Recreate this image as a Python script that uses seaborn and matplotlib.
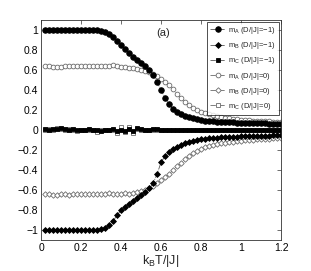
import numpy as np
import pandas as pd
import seaborn as sns
import matplotlib
matplotlib.use("Agg")
import matplotlib.pyplot as plt

# ── Data ──────────────────────────────────────────────────────────────────────
T = np.round(np.arange(1, 61) * 0.02, 2)

mA_m1 = [1.0] * 14 + [0.99,
         0.98, 0.96, 0.93, 0.89, 0.85, 0.81, 0.77, 0.73, 0.70, 0.67,
         0.64, 0.60, 0.55, 0.48, 0.40, 0.32, 0.26, 0.21, 0.18, 0.16,
         0.14, 0.13, 0.12, 0.11, 0.10, 0.095, 0.09, 0.088, 0.085, 0.082,
         0.080, 0.078, 0.076, 0.075, 0.073, 0.072, 0.070, 0.069, 0.068, 0.067,
         0.066, 0.065, 0.064, 0.063, 0.062]
mB_m1 = [-1.0] * 14 + [-0.99,
         -0.98, -0.95, -0.91, -0.85, -0.80, -0.77, -0.74, -0.71, -0.68, -0.65,
         -0.62, -0.58, -0.53, -0.44, -0.32, -0.26, -0.22, -0.19, -0.17, -0.15,
         -0.13, -0.12, -0.11, -0.10, -0.09, -0.085, -0.08, -0.078, -0.075, -0.072,
         -0.070, -0.068, -0.066, -0.065, -0.063, -0.062, -0.060, -0.059, -0.058, -0.057,
         -0.056, -0.055, -0.054, -0.053, -0.052]
mC_m1 = [0.01, 0.00, 0.01, 0.01, 0.02, 0.01, 0.00, 0.01, 0.00, 0.00,
         0.00, 0.01, 0.00, 0.00, -0.01, 0.00, 0.00, 0.01, -0.01, 0.00,
         -0.01, 0.01, -0.01, 0.02, 0.01, 0.00, 0.00, 0.01, 0.01, 0.00,
         0.00, 0.00, 0.00, 0.00, 0.00, 0.00, 0.00, 0.00, 0.00, 0.00,
         0.00, 0.00, 0.00, 0.00, 0.00, 0.00, 0.00, 0.00, 0.00, 0.00,
         0.00, 0.00, 0.00, 0.00, 0.00, 0.00, 0.00, 0.00, 0.00, 0.00]

mA_0 = [0.64, 0.64, 0.63, 0.63, 0.63, 0.64, 0.64, 0.64, 0.64, 0.64,
        0.64, 0.64, 0.64, 0.64, 0.64, 0.64, 0.64, 0.65, 0.64, 0.63,
        0.63, 0.62, 0.62, 0.61, 0.60, 0.59, 0.58, 0.56, 0.54, 0.51,
        0.48, 0.45, 0.41, 0.36, 0.32, 0.28, 0.25, 0.22, 0.20, 0.18,
        0.17, 0.16, 0.15, 0.14, 0.13, 0.125, 0.12, 0.115, 0.11, 0.105,
        0.10, 0.098, 0.095, 0.092, 0.09, 0.088, 0.086, 0.084, 0.082, 0.08]
mB_0 = [-0.64, -0.64, -0.65, -0.65, -0.64, -0.64, -0.65, -0.64, -0.64, -0.64,
        -0.64, -0.64, -0.64, -0.64, -0.64, -0.64, -0.63, -0.64, -0.64, -0.64,
        -0.63, -0.64, -0.63, -0.62, -0.61, -0.60, -0.58, -0.56, -0.53, -0.50,
        -0.47, -0.44, -0.40, -0.36, -0.33, -0.29, -0.26, -0.23, -0.21, -0.19,
        -0.17, -0.16, -0.15, -0.14, -0.13, -0.125, -0.12, -0.115, -0.11, -0.105,
        -0.10, -0.098, -0.095, -0.092, -0.09, -0.088, -0.086, -0.084, -0.082, -0.08]
mC_0 = [0.00, 0.01, 0.00, 0.02, 0.01, 0.00, 0.01, 0.00, -0.01, 0.00,
        0.00, 0.00, 0.00, -0.02, 0.00, 0.00, 0.00, 0.00, -0.03, 0.03,
        -0.02, 0.03, -0.03, 0.01, 0.00, 0.00, 0.00, 0.00, 0.00, 0.00,
        0.00, 0.00, 0.00, 0.00, 0.00, 0.00, 0.00, 0.00, 0.00, 0.00,
        0.00, 0.00, 0.00, 0.00, 0.00, 0.00, 0.00, 0.00, 0.00, 0.00,
        0.00, 0.00, 0.00, 0.00, 0.00, 0.00, 0.00, 0.00, 0.00, 0.00]

XTICKS = [0, 0.2, 0.4, 0.6, 0.8, 1, 1.2]
YTICKS = [-1, -0.8, -0.6, -0.4, -0.2, 0, 0.2, 0.4, 0.6, 0.8, 1]

# ── Style ─────────────────────────────────────────────────────────────────────
sns.set_style("white")
plt.rcParams["font.family"] = ["Liberation Sans", "DejaVu Sans"]
plt.rcParams["mathtext.fontset"] = "custom"
plt.rcParams["mathtext.rm"] = "Liberation Sans"

fig = plt.figure(figsize=(3.11, 2.71), dpi=100)
ax = fig.add_axes([0.132, 0.114, 0.772, 0.812])

GREY = "#6a6a6a"
series = [
    # (values, marker, filled, label)
    (mC_0, "s", False, r"m$_\mathregular{C}$ (D/|J|=0)"),
    (mB_0, "D", False, r"m$_\mathregular{B}$ (D/|J|=0)"),
    (mA_0, "o", False, r"m$_\mathregular{A}$ (D/|J|=0)"),
    (mC_m1, "s", True, r"m$_\mathregular{C}$ (D/|J|=−1)"),
    (mB_m1, "D", True, r"m$_\mathregular{B}$ (D/|J|=−1)"),
    (mA_m1, "o", True, r"m$_\mathregular{A}$ (D/|J|=−1)"),
]

for vals, mk, filled, lab in series:
    df = pd.DataFrame({"T": T, "m": vals})
    if filled:
        ms = 4.0 if mk == "o" else 3.0
    else:
        ms = 3.4 if mk == "o" else 2.8
    sns.lineplot(
        data=df, x="T", y="m", ax=ax, label=lab,
        color=GREY if not filled else "#555555",
        linestyle="-.", linewidth=0.6,
        marker=mk, markersize=ms,
        markerfacecolor="black" if filled else "white",
        markeredgecolor="black" if filled else GREY,
        markeredgewidth=0.6,
    )

ax.set_xlim(0, 1.2)
ax.set_ylim(-1.1, 1.1)
ax.set_xticks(XTICKS)
ax.set_xticklabels(["0", "0.2", "0.4", "0.6", "0.8", "1", "1.2"])
ax.set_yticks(YTICKS)
ax.set_yticklabels([f"{v:g}".replace("-", "−") for v in YTICKS])
ax.tick_params(direction="in", length=3, width=0.5, labelsize=7.5,
               top=True, right=True, colors="#333333", labelcolor="black", pad=2)
for sp in ax.spines.values():
    sp.set_linewidth(0.6)
    sp.set_color("#333333")

ax.set_xlabel(r"k$_\mathregular{B}$T/|J|", fontsize=9, labelpad=0)
ax.set_ylabel("")
ax.text(0.61, 0.97, "(a)", fontsize=8, ha="center", va="center")

h, l = ax.get_legend_handles_labels()
order = [5, 4, 3, 2, 1, 0]
leg = ax.legend([h[i] for i in order], [l[i] for i in order],
                loc="upper right", fontsize=5.5, frameon=True, fancybox=False,
                edgecolor="black", borderpad=0.4, labelspacing=0.55,
                handlelength=2.0, handletextpad=0.4, borderaxespad=0.25)
leg.get_frame().set_linewidth(0.6)

fig.savefig("out.png", dpi=100)
